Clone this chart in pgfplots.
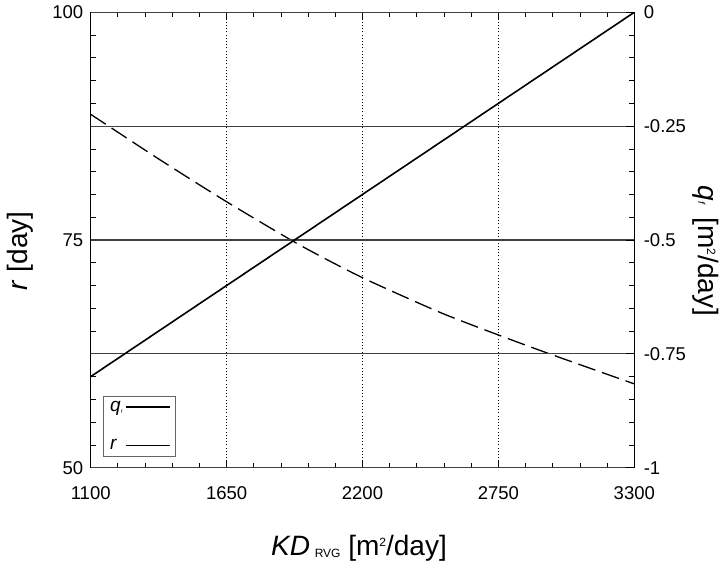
\documentclass[border=0pt]{standalone}
\usepackage{fontspec}
\setmainfont{Liberation Sans}
\usepackage{pgfplots}
\pgfplotsset{compat=1.18}
\begin{document}
\begin{tikzpicture}
\useasboundingbox (-90.7pt,-94.3pt) rectangle (629.3pt,467.7pt);
\begin{axis}[
  scale only axis, width=543.6pt, height=455.4pt,
  xmin=1100, xmax=3300, ymin=50, ymax=100,
  xtick={1100,1650,2200,2750,3300}, ytick={50,75,100},
  xticklabels={\textrm{1100},\textrm{1650},\textrm{2200},\textrm{2750},\textrm{3300}},
  yticklabels={\textrm{50},\textrm{75},\textrm{100}},
  minor x tick num=4, minor y tick num=9,
  tick align=inside, tick pos=both,
  major tick length=8pt, minor tick length=5pt,
  every tick/.style={black, line width=0.8pt},
  axis line style={line width=1.1pt},
  xmajorgrids, grid style={black, line width=0.7pt, dash pattern=on 1pt off 2.2pt},
  ticklabel style={font=\fontsize{18.5}{22}\selectfont},
  xticklabel style={yshift=-15pt},
  yticklabel style={xshift=-4pt},
  xlabel={\textit{KD}\,\raisebox{-2pt}{\fontsize{12}{14}\selectfont RVG} [m\raisebox{9pt}{\fontsize{12}{14}\selectfont 2}/day]},
  ylabel={\textit{r} [day]},
  label style={font=\fontsize{28}{32}\selectfont},
  xlabel style={at={(axis description cs:0.4936,-0.193)}, anchor=base},
  ylabel style={at={(axis description cs:-0.130,0.476)}, anchor=center},
]
\addplot[black, line width=1.3pt, dash pattern=on 18pt off 7pt, smooth, tension=0.4] coordinates {
(1100,88.8) (1375,83.9) (1650,79.2) (1946,74.45) (2200,70.86) (2513,67.06) (2750,64.57) (2957,62.5) (3300,59.2)
};
\end{axis}
\begin{axis}[
  scale only axis, width=543.6pt, height=455.4pt,
  xmin=1100, xmax=3300, ymin=-1, ymax=0,
  axis x line=none, axis y line*=right,
  ytick={-1,-0.75,-0.5,-0.25,0},
  yticklabels={\textrm{-1},\textrm{-0.75},\textrm{-0.5},\textrm{-0.25},\textrm{0}},
  tick align=inside, major tick length=8pt,
  every tick/.style={black, line width=0.8pt},
  axis line style={line width=1.1pt},
  ymajorgrids, grid style={black!75, line width=1.1pt},
  ticklabel style={font=\fontsize{18.5}{22}\selectfont},
  yticklabel style={xshift=6pt},
  ylabel={\textit{q}{\fontsize{10}{12}\selectfont\textit{f}}\, [m\raisebox{9pt}{\fontsize{12}{14}\selectfont 2}/day]},
  label style={font=\fontsize{28}{32}\selectfont},
  ylabel style={at={(axis description cs:1.1306,0.476)}, anchor=center, rotate=180},
  legend plot pos=right,
  legend cell align=left,
  legend image code/.code={%
    \path (0pt,0pt) -- (44pt,0pt);
    \begin{scope}[#1]
      \ifdim\pgflinewidth>1.45pt
        \draw[solid] (8pt,0pt) -- (43pt,0pt);
      \else
        \draw[solid] (8pt,0pt) -- (31pt,0pt);
        \draw[solid] (37pt,0pt) -- (43pt,0pt);
      \fi
    \end{scope}},
  legend style={at={(axis description cs:0.0226,0.0257)}, anchor=south west,
    draw=black!60, font=\fontsize{19}{22}\selectfont, row sep=23pt,
    inner xsep=5pt, inner ysep=2.5pt},
]
\addplot[black, line width=1.6pt] coordinates {
(1100,-0.8) (1650,-0.6) (2200,-0.4) (2750,-0.2) (3300,0)
};
\addlegendentry{\textit{q}\textsubscript{\tiny\textit{f}}}
\addlegendimage{black, line width=1.3pt}
\addlegendentry{\textit{r}}
\end{axis}
\end{tikzpicture}
\end{document}
